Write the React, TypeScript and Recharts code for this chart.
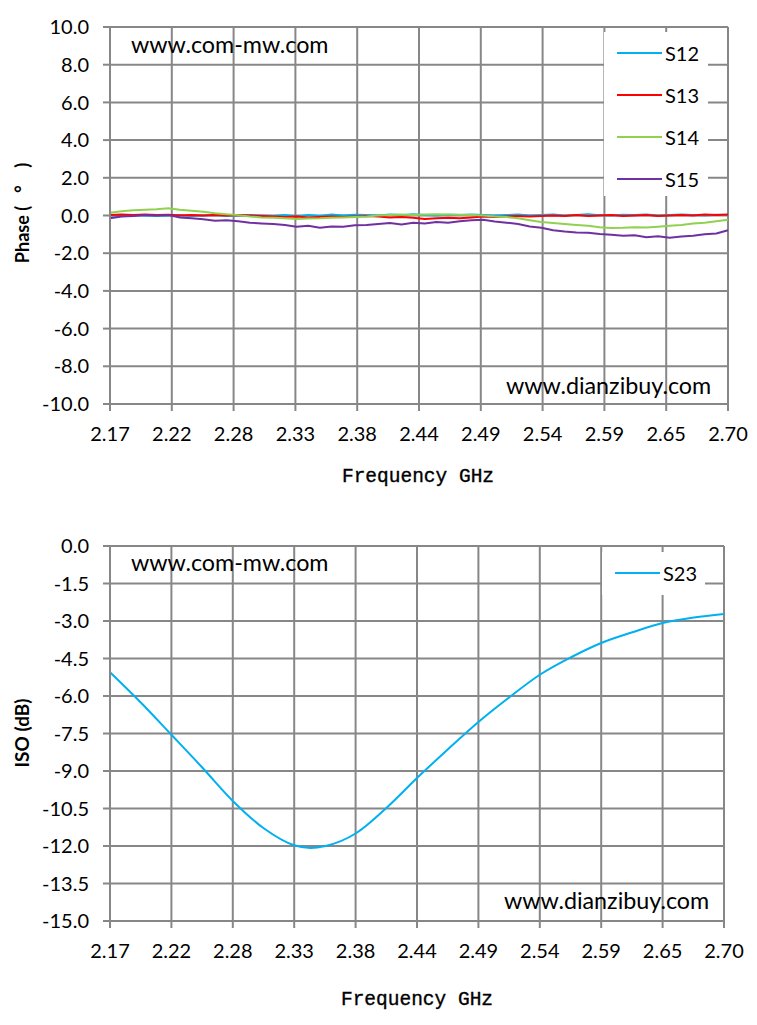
import { LineChart, Line, XAxis, YAxis, CartesianGrid, Legend } from 'recharts';

// frequency ticks (GHz) shared by both charts
const freqTicks = [2.17, 2.223, 2.276, 2.329, 2.382, 2.435, 2.488, 2.541, 2.594, 2.647, 2.7];
const freqLabels = ['2.17', '2.22', '2.28', '2.33', '2.38', '2.44', '2.49', '2.54', '2.59', '2.65', '2.70'];

// phase chart
const phaseFreq = [
  2.17, 2.18, 2.19, 2.2, 2.21, 2.22, 2.23, 2.24, 2.25, 2.26, 2.27, 2.28, 2.29, 2.3, 2.31, 2.32, 2.33, 2.34,
  2.35, 2.36, 2.37, 2.38, 2.39, 2.4, 2.41, 2.42, 2.43, 2.44, 2.45, 2.46, 2.47, 2.48, 2.49, 2.5, 2.51, 2.52,
  2.53, 2.54, 2.55, 2.56, 2.57, 2.58, 2.59, 2.6, 2.61, 2.62, 2.63, 2.64, 2.65, 2.66, 2.67, 2.68, 2.69, 2.7,
];
const s12 = [
  0.0, -0.02, 0.02, 0.0, -0.03, 0.0, 0.02, -0.02, 0.0, 0.02, -0.02, 0.0, 0.03, 0.0, -0.02, 0.02, -0.05, 0.03,
  -0.02, 0.05, 0.0, 0.04, 0.02, 0.0, 0.05, 0.02, 0.06, 0.03, 0.0, 0.04, 0.02, 0.05, 0.03, 0.0, 0.02, 0.05,
  0.0, 0.03, 0.05, 0.0, 0.03, 0.06, 0.02, 0.0, 0.04, 0.02, 0.05, 0.0, 0.03, 0.05, 0.02, 0.0, 0.04, 0.02,
];
const s13 = [
  0.02, 0.05, 0.03, 0.05, 0.02, 0.04, 0.0, 0.02, 0.0, 0.03, 0.0, 0.02, 0.0, -0.03, -0.05, -0.08, -0.05, -0.1,
  -0.08, -0.05, -0.08, -0.05, -0.03, -0.05, -0.1, -0.08, -0.12, -0.18, -0.15, -0.12, -0.15, -0.1, -0.05, -0.08, -0.05, -0.02,
  -0.05, -0.03, 0.0, -0.02, 0.02, -0.02, 0.0, 0.02, -0.03, 0.0, 0.02, -0.02, 0.0, 0.03, 0.0, 0.05, 0.02, 0.05,
];
const s14 = [
  0.15, 0.22, 0.28, 0.3, 0.33, 0.38, 0.3, 0.25, 0.2, 0.12, 0.06, 0.02, -0.05, -0.1, -0.12, -0.15, -0.18, -0.16,
  -0.15, -0.12, -0.1, -0.08, -0.05, 0.0, 0.02, 0.05, 0.03, 0.05, 0.06, 0.05, 0.04, 0.02, 0.0, -0.05, -0.08, -0.15,
  -0.25, -0.35, -0.4, -0.45, -0.5, -0.55, -0.62, -0.66, -0.65, -0.62, -0.64, -0.6, -0.55, -0.5, -0.42, -0.38, -0.3, -0.22,
];
const s15 = [
  -0.15, -0.05, -0.02, 0.02, 0.0, 0.02, -0.1, -0.15, -0.2, -0.28, -0.25, -0.3, -0.38, -0.42, -0.45, -0.5, -0.6, -0.55,
  -0.65, -0.58, -0.6, -0.52, -0.5, -0.45, -0.4, -0.48, -0.38, -0.42, -0.35, -0.38, -0.3, -0.25, -0.22, -0.32, -0.38, -0.45,
  -0.58, -0.65, -0.78, -0.85, -0.9, -0.92, -0.98, -1.02, -1.08, -1.05, -1.15, -1.1, -1.18, -1.12, -1.08, -1.0, -0.95, -0.78,
];
const phaseTicks = [-10, -8, -6, -4, -2, 0, 2, 4, 6, 8, 10];

// isolation chart
const isoFreq = [
  2.17, 2.197, 2.223, 2.25, 2.276, 2.303, 2.329, 2.343, 2.356, 2.382, 2.409, 2.435, 2.462, 2.488, 2.515,
  2.541, 2.568, 2.594, 2.621, 2.647, 2.674, 2.7,
];
const s23 = [
  -5.05, -6.28, -7.55, -8.88, -10.2, -11.3, -11.97, -12.08, -12.0, -11.5, -10.46, -9.28, -8.12, -7.04, -6.04,
  -5.15, -4.45, -3.88, -3.45, -3.08, -2.86, -2.72,
];
const isoTicks = [-15, -13.5, -12, -10.5, -9, -7.5, -6, -4.5, -3, -1.5, 0];

const phaseSeries = [
  { key: 'S12', values: s12, color: '#00B0F0' },
  { key: 'S13', values: s13, color: '#FF0000' },
  { key: 'S14', values: s14, color: '#92D050' },
  { key: 'S15', values: s15, color: '#7030A0' },
];

const phaseData = phaseFreq.map((f, i) => {
  const row: any = { f };
  phaseSeries.forEach(s => (row[s.key] = s.values[i]));
  return row;
});
const isoData = isoFreq.map((f, i) => ({ f, S23: s23[i] }));

const FONT = 'Lato, "Open Sans", sans-serif';
const MONO = '"Liberation Mono", monospace';
const GRID = '#878787';
const tickStyle = { fill: '#000', fontSize: 20, fontFamily: FONT };

const renderLegend = (props: any) => {
  const { payload } = props;
  return (
    <div style={{ background: '#fff', width: '100%', height: '100%' }}>
      {payload.map((p: any) => (
        <div key={p.value} style={{ height: 42, display: 'flex', alignItems: 'center' }}>
          <svg width={58} height={4} style={{ display: 'block' }}>
            <line x1={13} y1={2} x2={58} y2={2} stroke={p.color} strokeWidth={2} />
          </svg>
          <span style={{ fontFamily: FONT, fontSize: 20, color: '#000', marginLeft: 3 }}>{p.value}</span>
        </div>
      ))}
    </div>
  );
};

const freqTickFormatter = (_v: number, i: number) => freqLabels[i];

const axisTitle = { fontFamily: FONT, fontWeight: 'bold' as const, fontSize: 18, fill: '#000' };
const freqTitle = { fontFamily: MONO, fontSize: 19.5, fill: '#000', stroke: '#000', strokeWidth: 0.35 };

export default function App() {
  return (
    <div style={{ position: 'absolute', left: 0, top: 0, width: 757, height: 1025, background: '#fff' }}>
      <LineChart width={757} height={500} data={phaseData} margin={{ top: 27, right: 29, left: 0, bottom: 0 }}>
        <CartesianGrid stroke={GRID} strokeWidth={2} horizontalValues={phaseTicks} verticalValues={freqTicks} />
        <XAxis
          dataKey="f"
          type="number"
          domain={[2.17, 2.7]}
          ticks={freqTicks}
          tickFormatter={freqTickFormatter}
          interval={0}
          height={96}
          stroke={GRID}
          strokeWidth={2}
          tickSize={7}
          tickMargin={16}
          tick={tickStyle}
        />
        <YAxis
          type="number"
          domain={[-10, 10]}
          ticks={phaseTicks}
          interval={0}
          tickFormatter={(v: number) => v.toFixed(1)}
          width={110}
          stroke={GRID}
          strokeWidth={2}
          tickSize={7}
          tickMargin={14}
          tick={tickStyle}
        />
        <Legend
          layout="vertical"
          align="center"
          verticalAlign="middle"
          content={renderLegend}
          wrapperStyle={{ position: 'absolute', left: 604, top: 32, width: 104, height: 164 }}
        />
        {phaseSeries.map(s => (
          <Line
            key={s.key}
            type="linear"
            dataKey={s.key}
            name={s.key}
            stroke={s.color}
            strokeWidth={2}
            dot={false}
            isAnimationActive={false}
          />
        ))}
        <text x={131} y={53} fontFamily={FONT} fontSize={23.3} fill="#000">www.com-mw.com</text>
        <text x={506} y={394} fontFamily={FONT} fontSize={23.3} fill="#000">www.dianzibuy.com</text>
        <text x={418} y={482} textAnchor="middle" {...freqTitle}>
          Frequency GHz
        </text>
        <text
          x={29}
          y={213}
          transform="rotate(-90 29 213)"
          textAnchor="middle"
          style={{ whiteSpace: 'pre' }}
          {...axisTitle}
        >
          {'Phase (   °    )'}
        </text>
      </LineChart>

      <div style={{ paddingTop: 19 }}>
        <LineChart width={757} height={498} data={isoData} margin={{ top: 27, right: 33, left: 0, bottom: 0 }}>
          <CartesianGrid stroke={GRID} strokeWidth={2} horizontalValues={isoTicks} verticalValues={freqTicks} />
          <XAxis
            dataKey="f"
            type="number"
            domain={[2.17, 2.7]}
            ticks={freqTicks}
            tickFormatter={freqTickFormatter}
            interval={0}
            height={96}
            stroke={GRID}
            strokeWidth={2}
            tickSize={7}
            tickMargin={16}
            tick={tickStyle}
          />
          <YAxis
            type="number"
            domain={[-15, 0]}
            ticks={isoTicks}
            interval={0}
            tickFormatter={(v: number) => v.toFixed(1)}
            width={110}
            stroke={GRID}
            strokeWidth={2}
            tickSize={7}
            tickMargin={14}
            tick={tickStyle}
          />
          <Legend
            layout="vertical"
            align="center"
            verticalAlign="middle"
            content={renderLegend}
            wrapperStyle={{ position: 'absolute', left: 602, top: 33, width: 103, height: 43 }}
          />
          <Line
            type="monotone"
            dataKey="S23"
            name="S23"
            stroke="#00B0F0"
            strokeWidth={2}
            dot={false}
            isAnimationActive={false}
          />
          <text x={131} y={52} fontFamily={FONT} fontSize={23.3} fill="#000">www.com-mw.com</text>
          <text x={504} y={390} fontFamily={FONT} fontSize={23.3} fill="#000">www.dianzibuy.com</text>
          <text x={417} y={486} textAnchor="middle" {...freqTitle}>
            Frequency GHz
          </text>
          <text x={29} y={214} transform="rotate(-90 29 214)" textAnchor="middle" {...axisTitle} fontSize={19}>
            ISO (dB)
          </text>
        </LineChart>
      </div>
    </div>
  );
}
